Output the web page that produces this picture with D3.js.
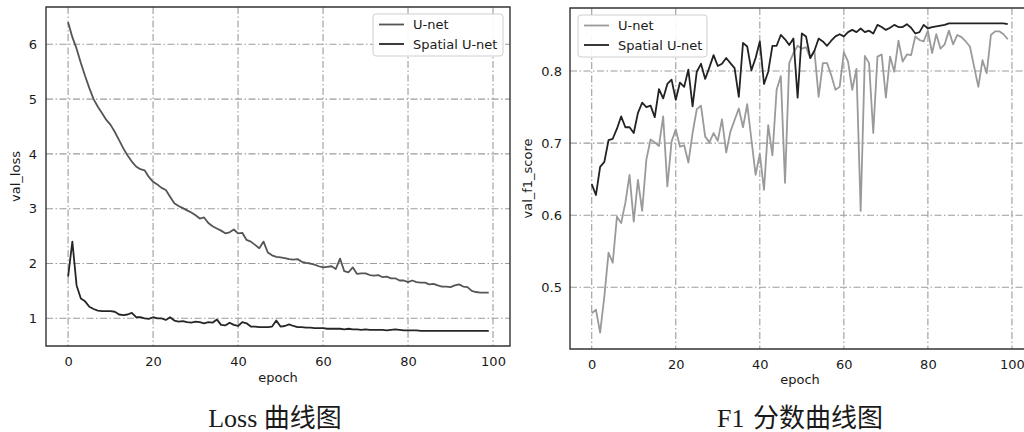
<!DOCTYPE html>
<html>
<head>
<meta charset="utf-8">
<script src="https://cdn.jsdelivr.net/npm/d3@7"></script>
<style>
body { margin: 0; background: #fff; }
text { font-family: "DejaVu Sans", sans-serif; }
</style>
</head>
<body>
<svg id="chart" width="1024" height="432"></svg>
<script>
var epochs = d3.range(100);

var unetLoss = [
  6.40, 6.13, 5.92, 5.66, 5.42, 5.20, 5.00, 4.86, 4.74, 4.62,
  4.53, 4.40, 4.25, 4.10, 3.97, 3.86, 3.77, 3.72, 3.70, 3.58,
  3.49, 3.44, 3.38, 3.34, 3.22, 3.10, 3.05, 3.01, 2.97, 2.93,
  2.88, 2.82, 2.84, 2.74, 2.68, 2.64, 2.60, 2.55, 2.57, 2.62,
  2.55, 2.56, 2.43, 2.40, 2.34, 2.28, 2.40, 2.20, 2.15, 2.12,
  2.11, 2.10, 2.08, 2.07, 2.08, 2.03, 2.01, 2.00, 1.98, 1.95,
  1.93, 1.94, 1.95, 1.90, 2.09, 1.86, 1.84, 1.93, 1.81, 1.82,
  1.82, 1.79, 1.78, 1.79, 1.75, 1.76, 1.73, 1.73, 1.69, 1.69,
  1.66, 1.69, 1.66, 1.65, 1.65, 1.62, 1.63, 1.60, 1.58, 1.58,
  1.57, 1.60, 1.62, 1.58, 1.57, 1.50, 1.48, 1.47, 1.47, 1.47
];

var spatialLoss = [
  1.76, 2.40, 1.60, 1.36, 1.31, 1.21, 1.17, 1.14, 1.13, 1.13,
  1.13, 1.12, 1.07, 1.06, 1.07, 1.10, 1.02, 1.02, 1.00, 0.99,
  1.02, 1.00, 1.00, 0.97, 1.02, 0.96, 0.94, 0.95, 0.93, 0.92,
  0.94, 0.93, 0.91, 0.93, 0.92, 0.98, 0.88, 0.87, 0.92, 0.88,
  0.86, 0.93, 0.91, 0.85, 0.85, 0.84, 0.84, 0.84, 0.85, 0.96,
  0.85, 0.86, 0.89, 0.86, 0.84, 0.84, 0.83, 0.83, 0.82, 0.82,
  0.82, 0.81, 0.81, 0.81, 0.81, 0.80, 0.81, 0.80, 0.80, 0.79,
  0.80, 0.79, 0.79, 0.79, 0.79, 0.78, 0.79, 0.80, 0.79, 0.78,
  0.78, 0.78, 0.78, 0.77, 0.77, 0.77, 0.77, 0.77, 0.77, 0.77,
  0.77, 0.77, 0.77, 0.77, 0.77, 0.77, 0.77, 0.77, 0.77, 0.77
];

var unetF1 = [
  0.464, 0.469, 0.437, 0.487, 0.548, 0.534, 0.598, 0.589, 0.617, 0.656,
  0.591, 0.649, 0.606, 0.677, 0.705, 0.701, 0.696, 0.737, 0.640, 0.702,
  0.719, 0.695, 0.697, 0.673, 0.714, 0.747, 0.752, 0.709, 0.701, 0.714,
  0.703, 0.733, 0.687, 0.716, 0.732, 0.748, 0.722, 0.754, 0.705, 0.656,
  0.685, 0.635, 0.725, 0.683, 0.774, 0.793, 0.645, 0.811, 0.825, 0.835,
  0.831, 0.833, 0.818, 0.828, 0.764, 0.811, 0.811, 0.794, 0.774, 0.778,
  0.826, 0.813, 0.774, 0.803, 0.606, 0.821, 0.811, 0.714, 0.820, 0.823,
  0.763, 0.820, 0.799, 0.842, 0.813, 0.823, 0.822, 0.848, 0.843, 0.841,
  0.856, 0.825, 0.851, 0.831, 0.837, 0.856, 0.837, 0.850, 0.847, 0.841,
  0.834, 0.806, 0.778, 0.815, 0.797, 0.850, 0.855, 0.855, 0.851, 0.844
];

var spatialF1 = [
  0.643, 0.628, 0.667, 0.674, 0.704, 0.706, 0.720, 0.737, 0.722, 0.722,
  0.714, 0.742, 0.756, 0.750, 0.752, 0.736, 0.775, 0.762, 0.782, 0.788,
  0.760, 0.784, 0.778, 0.802, 0.751, 0.799, 0.810, 0.789, 0.805, 0.822,
  0.807, 0.810, 0.818, 0.811, 0.804, 0.764, 0.839, 0.834, 0.801, 0.818,
  0.841, 0.782, 0.799, 0.835, 0.835, 0.850, 0.844, 0.836, 0.845, 0.763,
  0.852, 0.848, 0.818, 0.828, 0.845, 0.841, 0.835, 0.842, 0.848, 0.851,
  0.848, 0.854, 0.857, 0.854, 0.859, 0.854, 0.856, 0.852, 0.864, 0.861,
  0.857, 0.860, 0.864, 0.861, 0.861, 0.865, 0.860, 0.852, 0.854, 0.864,
  0.859, 0.861, 0.862, 0.863, 0.864, 0.866, 0.866, 0.866, 0.866, 0.866,
  0.866, 0.866, 0.866, 0.866, 0.866, 0.866, 0.866, 0.866, 0.866, 0.865
];

var xTicks = [0, 20, 40, 60, 80, 100];
var lossTicks = [1, 2, 3, 4, 5, 6];
var f1Ticks = [0.5, 0.6, 0.7, 0.8];
var seriesNames = ['U-net', 'Spatial U-net'];

var svg = d3.select('#chart');

function panel(p) {
  var g = svg.append('g');
  var x = d3.scaleLinear().domain(p.xDomain).range([p.left, p.right]);
  var y = d3.scaleLinear().domain(p.yDomain).range([p.bottom, p.top]);

  var clipId = 'clip' + p.left;
  svg.append('clipPath').attr('id', clipId)
    .append('rect')
    .attr('x', p.left).attr('y', p.top)
    .attr('width', p.right - p.left).attr('height', p.bottom - p.top);

  // grid
  var grid = g.append('g').attr('clip-path', 'url(#' + clipId + ')');
  grid.selectAll('.vg').data(xTicks).enter().append('line')
    .attr('x1', function(d) { return x(d); }).attr('x2', function(d) { return x(d); })
    .attr('y1', p.top).attr('y2', p.bottom);
  grid.selectAll('.hg').data(p.yTicks).enter().append('line')
    .attr('y1', function(d) { return y(d); }).attr('y2', function(d) { return y(d); })
    .attr('x1', p.left).attr('x2', p.right);
  grid.selectAll('line')
    .attr('stroke', '#9c9c9c')
    .attr('stroke-width', 1.1)
    .attr('stroke-dasharray', '7,2.5,1.5,2.5');

  // tick labels via d3 axes
  var xAxis = g.append('g')
    .attr('transform', 'translate(0,' + p.bottom + ')')
    .call(d3.axisBottom(x).tickValues(xTicks).tickSize(0).tickPadding(p.xPad));
  var yAxis = g.append('g')
    .attr('transform', 'translate(' + p.left + ',0)')
    .call(d3.axisLeft(y).tickValues(p.yTicks).tickFormat(p.yFormat).tickSize(0).tickPadding(p.yPad));
  [xAxis, yAxis].forEach(function(a) {
    a.select('.domain').remove();
    a.selectAll('text')
      .attr('fill', '#1a1a1a')
      .style('font-size', '13px')
      .style('font-family', '"DejaVu Sans", sans-serif');
  });

  // series
  var lines = g.append('g').attr('clip-path', 'url(#' + clipId + ')');
  p.series.forEach(function(s) {
    var line = d3.line()
      .x(function(d, i) { return x(epochs[i]); })
      .y(function(d) { return y(d); });
    lines.append('path')
      .datum(s.values)
      .attr('d', line)
      .attr('fill', 'none')
      .attr('stroke', s.color)
      .attr('stroke-width', 1.8)
      .attr('stroke-linejoin', 'round');
  });

  // frame
  g.append('path')
    .attr('d', 'M' + p.left + ',' + p.top + 'H' + p.right + 'V' + p.bottom + 'H' + p.left + 'Z')
    .attr('fill', 'none')
    .attr('stroke', '#333')
    .attr('stroke-width', 1.4);

  // axis titles
  g.append('text')
    .attr('x', (p.left + p.right) / 2)
    .attr('y', p.xLabelY)
    .attr('text-anchor', 'middle')
    .attr('fill', '#1a1a1a')
    .style('font-size', '13px')
    .text('epoch');
  g.append('text')
    .attr('transform', 'translate(' + p.yLabelX + ',' + (p.top + p.bottom) / 2 + ') rotate(-90)')
    .attr('text-anchor', 'middle')
    .attr('fill', '#1a1a1a')
    .style('font-size', '13px')
    .text(p.yLabel);

  // legend
  var lg = g.append('g').attr('transform', 'translate(' + p.legend[0] + ',' + p.legend[1] + ')');
  lg.append('rect')
    .attr('width', p.legend[2]).attr('height', 42)
    .attr('rx', 3)
    .attr('fill', '#fff').attr('fill-opacity', 0.9)
    .attr('stroke', '#cfcfcf');
  p.series.forEach(function(s, i) {
    var yy = 10.5 + i * 19.5;
    lg.append('line')
      .attr('x1', 6).attr('x2', 31).attr('y1', yy).attr('y2', yy)
      .attr('stroke', s.color).attr('stroke-width', 1.8);
    lg.append('text')
      .attr('x', 40).attr('y', yy + 4.6)
      .attr('fill', '#1a1a1a')
      .style('font-size', '13px')
      .text(seriesNames[i]);
  });

  // caption
  svg.append('text')
    .attr('x', p.captionX).attr('y', 427)
    .attr('text-anchor', 'middle')
    .attr('fill', '#1a1a1a')
    .style('font-size', '26px')
    .style('word-spacing', p.captionGap + 'px')
    .style('font-family', '"Liberation Serif", "Noto Sans CJK SC", serif')
    .text(p.caption);
}

panel({
  left: 46, right: 510, top: 7, bottom: 346,
  xDomain: [-5.2, 104], yDomain: [0.495, 6.68],
  yTicks: lossTicks, yFormat: d3.format('d'),
  xPad: 11, yPad: 9,
  xLabelY: 382, yLabelX: 19.5, yLabel: 'val_loss',
  legend: [373, 14, 130],
  series: [
    { values: unetLoss, color: '#555' },
    { values: spatialLoss, color: '#262626' }
  ],
  caption: 'Loss 曲线图', captionX: 275, captionGap: 0
});

panel({
  left: 570, right: 1030, top: 8, bottom: 349,
  xDomain: [-5.17, 104.3], yDomain: [0.4144, 0.8874],
  yTicks: f1Ticks, yFormat: d3.format('.1f'),
  xPad: 10.5, yPad: 8,
  xLabelY: 384, yLabelX: 532, yLabel: 'val_f1_score',
  legend: [578, 15, 129],
  series: [
    { values: unetF1, color: '#9a9a9a' },
    { values: spatialF1, color: '#222' }
  ],
  caption: 'F1 分数曲线图', captionX: 800, captionGap: 2
});
</script>
</body>
</html>
